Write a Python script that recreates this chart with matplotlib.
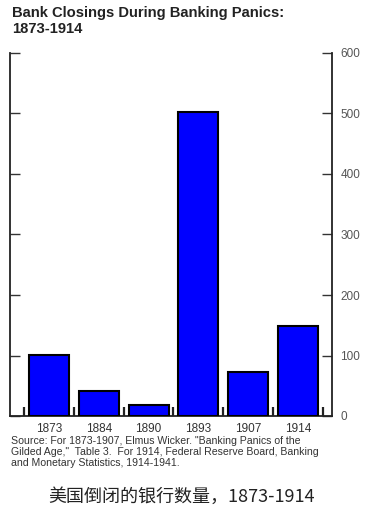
import matplotlib
matplotlib.use("Agg")
import matplotlib.pyplot as plt
import numpy as np

years = ["1873", "1884", "1890", "1893", "1907", "1914"]
closings = [101, 42, 18, 503, 73, 149]
yticks = [0, 100, 200, 300, 400, 500, 600]

plt.rcParams['font.family'] = ['Liberation Sans', 'DejaVu Sans']

fig = plt.figure(figsize=(3.67, 5.24), dpi=100)
ax = fig.add_axes([10/367, 1-416/524, 322/367, 363/524])

x = np.arange(len(years))
ax.bar(x, closings, width=0.8, color='#0000FF', edgecolor='black', linewidth=1.5, zorder=3)

ax.set_xlim(-0.78, len(years) - 0.5 + 0.18)
ax.set_ylim(0, 600)

ax.spines['top'].set_visible(False)
for s in ['left', 'right', 'bottom']:
    ax.spines[s].set_linewidth(1.3)
    ax.spines[s].set_color('#222222')

ax.set_xticks(x)
ax.set_xticklabels(years)
ax.set_xticks(np.arange(len(years) + 1) - 0.5, minor=True)
ax.tick_params(axis='x', which='major', length=0, pad=5, labelsize=8.5, labelcolor='#333333')
ax.tick_params(axis='x', which='minor', direction='in', length=6.5, width=1.6, color='#222222')

ax.set_yticks(yticks)
ax.set_yticklabels([str(v) for v in yticks])
ax.set_yticks([600], minor=True)
ax.tick_params(axis='y', which='major', direction='in', left=True, right=True,
               labelleft=False, labelright=True, length=7.5, width=1.0,
               color='#333333', labelsize=8.5, labelcolor='#555555', pad=6)
ax.tick_params(axis='y', which='minor', direction='in', left=True, right=True,
               length=11, width=1.2, color='#333333')

fig.text(12/367, 1-6/524, "Bank Closings During Banking Panics:\n1873-1914",
         fontsize=10.6, fontweight='bold', color='#222222', va='top', ha='left',
         linespacing=1.2)

fig.text(11/367, 1-436/524,
         "Source: For 1873-1907, Elmus Wicker. \"Banking Panics of the\n"
         "Gilded Age,\"  Table 3.  For 1914, Federal Reserve Board, Banking\n"
         "and Monetary Statistics, 1914-1941.",
         fontsize=7.6, color='#333333', va='top', ha='left', linespacing=1.12)

fig.text(0.495, 1-497/524, "美国倒闭的银行数量，1873-1914",
         fontsize=13, color='#222222', ha='center', va='center',
         family=['Noto Sans CJK SC', 'DejaVu Sans'])

fig.savefig("out.png", dpi=100, facecolor='white')
